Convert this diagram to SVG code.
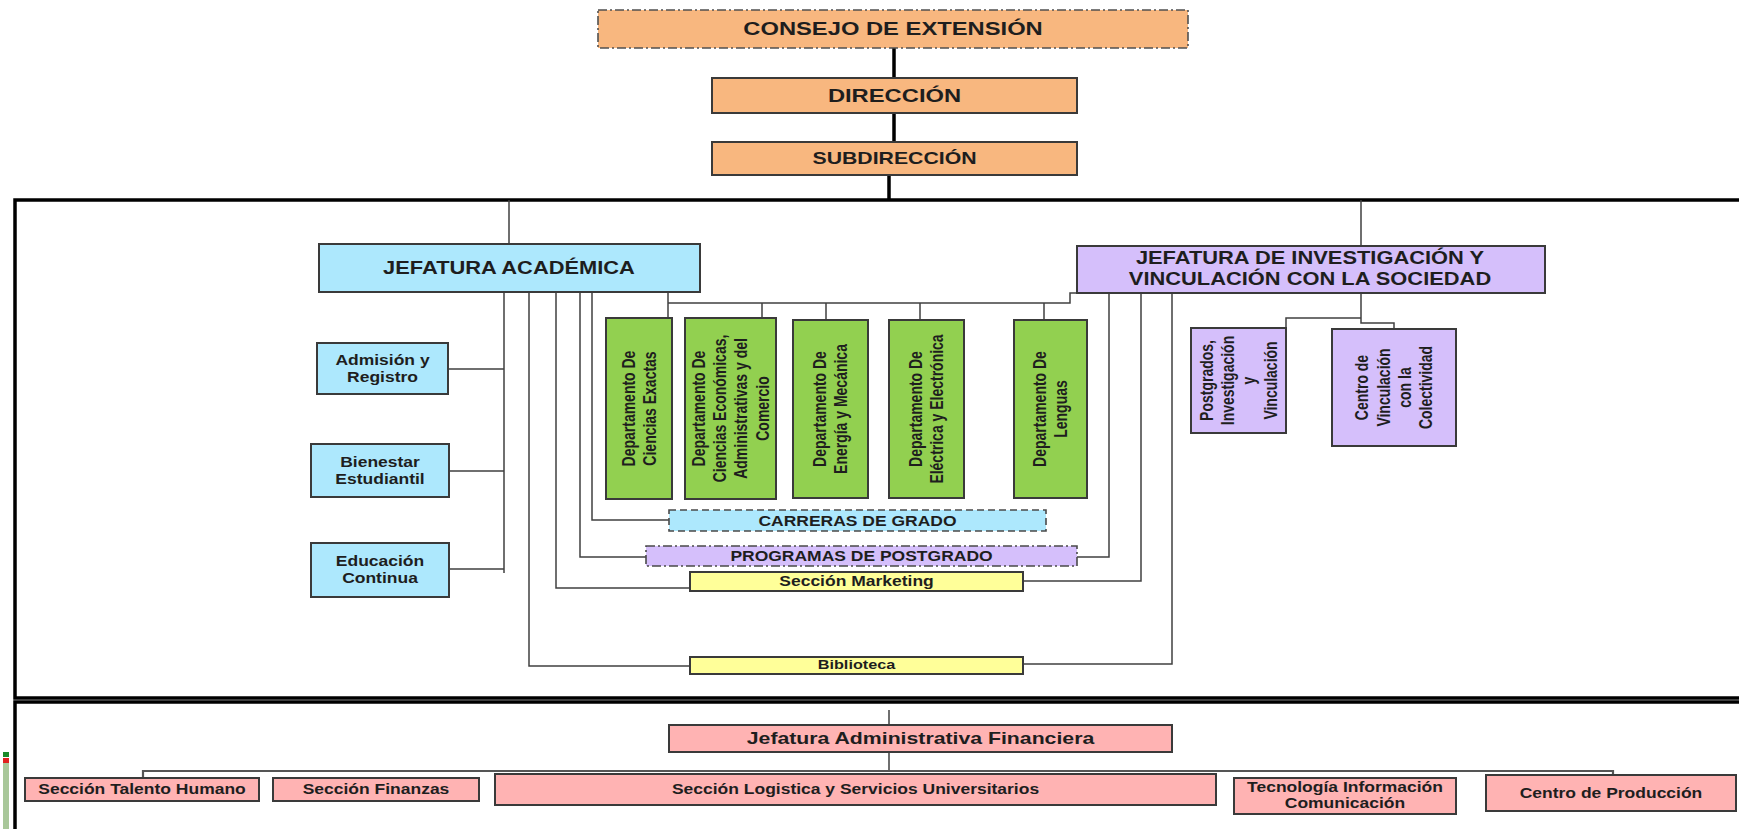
<svg xmlns="http://www.w3.org/2000/svg" width="1739" height="829" viewBox="0 0 1739 829">
<style>
  .t { font-family: "Liberation Sans", Arial, sans-serif; font-weight: bold; fill: #1e1e1e; text-anchor: middle; }
  .box { stroke: #3a3a3a; stroke-width: 2; }
  .orange { fill: #F8B77F; }
  .blue { fill: #ADE8FD; }
  .purple { fill: #D5BFFB; }
  .green { fill: #92D050; }
  .yellow { fill: #FFFF99; }
  .pink { fill: #FFB3B3; }
  .dashdot { stroke-dasharray: 9 3 2 3; }
  .dash { stroke-dasharray: 7 4; }
  .frame { fill: none; stroke: #000; stroke-width: 3.5; }
  .thick { fill: none; stroke: #000; stroke-width: 3.5; }
  .thin { fill: none; stroke: #404040; stroke-width: 1.5; }
</style>
<rect x="0" y="0" width="1739" height="829" fill="#ffffff"/>

<!-- frames -->
<g id="frames">
  <rect class="frame" x="15" y="200" width="1740" height="498"/>
  <rect class="frame" x="15" y="702" width="1740" height="140"/>
  <rect x="3" y="752" width="6" height="5" fill="#1a8a2a"/>
  <rect x="3" y="758" width="6" height="5" fill="#e02020"/>
  <rect x="3" y="763" width="6" height="66" fill="#a9c79a"/>
</g>

<!-- connectors -->
<g id="connectors">
  <path class="thick" d="M894 48 V78 M894 113 V142 M889 175 V200"/>
  <path class="thin" d="M509 200 V244 M1361 200 V246"/>
  <path class="thin" d="M504 292 V573 M448 369 H504 M449 471 H504 M449 569 H504"/>
  <path class="thin" d="M529 292 V666 H690 M556 292 V588 H690 M580 292 V557 H646 M592 292 V520 H669"/>
  <path class="thin" d="M668 292 V318 M668 303 H1070 V293 H1077 M762 303 V318 M826 303 V320 M920 303 V320 M1044 303 V320"/>
  <path class="thin" d="M1109 293 V557 H1077 M1141 293 V581 H1023 M1172 293 V664 H1023"/>
  <path class="thin" d="M1361 293 V323 H1394 V329 M1361 318 H1286 V328"/>
  <path class="thin" d="M889 710 V725 M889 752 V771"/>
  <path class="thin" style="stroke-width:2.2;stroke:#555" d="M143 778 V771 H1613 V775"/>
</g>

<!-- top -->
<g id="consejo">
  <rect class="orange" x="598" y="10" width="590" height="38" stroke="#505050" stroke-width="1.6" stroke-dasharray="9 3 2 3"/>
  <text class="t" font-size="19" transform="translate(893,35) scale(1.25,1)">CONSEJO DE EXTENSIÓN</text>
</g>
<g id="direccion">
  <rect class="box orange" x="712" y="78" width="365" height="35"/>
  <text class="t" font-size="19" transform="translate(894.5,102) scale(1.25,1)">DIRECCIÓN</text>
</g>
<g id="subdireccion">
  <rect class="box orange" x="712" y="142" width="365" height="33"/>
  <text class="t" font-size="17" transform="translate(894.5,164) scale(1.25,1)">SUBDIRECCIÓN</text>
</g>

<!-- academic -->
<g id="jefatura-academica">
  <rect class="box blue" x="319" y="244" width="381" height="48"/>
  <text class="t" font-size="17.5" transform="translate(509,274) scale(1.25,1)">JEFATURA ACADÉMICA</text>
</g>
<g id="admision">
  <rect class="box blue" x="317" y="343" width="131" height="51"/>
  <text class="t" font-size="14" transform="translate(382.5,365) scale(1.25,1)"><tspan x="0">Admisión y</tspan><tspan x="0" dy="17">Registro</tspan></text>
</g>
<g id="bienestar">
  <rect class="box blue" x="311" y="444" width="138" height="53"/>
  <text class="t" font-size="14" transform="translate(380,467) scale(1.25,1)"><tspan x="0">Bienestar</tspan><tspan x="0" dy="17">Estudiantil</tspan></text>
</g>
<g id="educacion">
  <rect class="box blue" x="311" y="543" width="138" height="54"/>
  <text class="t" font-size="14" transform="translate(380,566) scale(1.25,1)"><tspan x="0">Educación</tspan><tspan x="0" dy="17">Continua</tspan></text>
</g>

<!-- departments -->
<g id="dep-exactas">
  <rect class="box green" x="606" y="318" width="66" height="181"/>
  <text class="t" font-size="14" transform="translate(639,408.5) scale(1.25,1) rotate(-90)"><tspan x="0" y="-3.5">Departamento De</tspan><tspan x="0" dy="17">Ciencias Exactas</tspan></text>
</g>
<g id="dep-economicas">
  <rect class="box green" x="685" y="318" width="91" height="181"/>
  <text class="t" font-size="14" transform="translate(730.5,408.5) scale(1.25,1) rotate(-90)"><tspan x="0" y="-20.5">Departamento De</tspan><tspan x="0" dy="17">Ciencias Económicas,</tspan><tspan x="0" dy="17">Administrativas y del</tspan><tspan x="0" dy="17">Comercio</tspan></text>
</g>
<g id="dep-energia">
  <rect class="box green" x="793" y="320" width="75" height="178"/>
  <text class="t" font-size="14" transform="translate(830.5,409) scale(1.25,1) rotate(-90)"><tspan x="0" y="-3.5">Departamento De</tspan><tspan x="0" dy="17">Energía y Mecánica</tspan></text>
</g>
<g id="dep-electrica">
  <rect class="box green" x="889" y="320" width="75" height="178"/>
  <text class="t" font-size="14" transform="translate(926.5,409) scale(1.25,1) rotate(-90)"><tspan x="0" y="-3.5">Departamento De</tspan><tspan x="0" dy="17">Eléctrica y Electrónica</tspan></text>
</g>
<g id="dep-lenguas">
  <rect class="box green" x="1014" y="320" width="73" height="178"/>
  <text class="t" font-size="14" transform="translate(1050.5,409) scale(1.25,1) rotate(-90)"><tspan x="0" y="-3.5">Departamento De</tspan><tspan x="0" dy="17">Lenguas</tspan></text>
</g>

<g id="carreras">
  <rect class="blue" x="669" y="510" width="377" height="21" stroke="#4a4a4a" stroke-width="1.6" stroke-dasharray="7 4"/>
  <text class="t" font-size="14" transform="translate(857.5,526) scale(1.25,1)">CARRERAS DE GRADO</text>
</g>
<g id="programas">
  <rect class="purple" x="646" y="546" width="431" height="20" stroke="#4a4a4a" stroke-width="1.6" stroke-dasharray="9 3 2 3"/>
  <text class="t" font-size="14" transform="translate(861.5,561) scale(1.25,1)">PROGRAMAS DE POSTGRADO</text>
</g>
<g id="marketing">
  <rect class="box yellow" x="690" y="572" width="333" height="19"/>
  <text class="t" font-size="14" transform="translate(856.5,586) scale(1.25,1)">Sección Marketing</text>
</g>
<g id="biblioteca">
  <rect class="box yellow" x="690" y="657" width="333" height="17"/>
  <text class="t" font-size="13" transform="translate(856.5,669) scale(1.25,1)">Biblioteca</text>
</g>

<!-- research -->
<g id="jefatura-investigacion">
  <rect class="box purple" x="1077" y="246" width="468" height="47"/>
  <text class="t" font-size="17.5" transform="translate(1310,264) scale(1.25,1)"><tspan x="0">JEFATURA DE INVESTIGACIÓN Y</tspan><tspan x="0" dy="21">VINCULACIÓN CON LA SOCIEDAD</tspan></text>
</g>
<g id="postgrados">
  <rect class="box purple" x="1191" y="328" width="95" height="105"/>
  <text class="t" font-size="14" transform="translate(1238.5,380.5) scale(1.25,1) rotate(-90)"><tspan x="0" y="-20.5">Postgrados,</tspan><tspan x="0" dy="17">Investigación</tspan><tspan x="0" dy="17">y</tspan><tspan x="0" dy="17">Vinculación</tspan></text>
</g>
<g id="centro-vinculacion">
  <rect class="box purple" x="1332" y="329" width="124" height="117"/>
  <text class="t" font-size="14" transform="translate(1394,387.5) scale(1.25,1) rotate(-90)"><tspan x="0" y="-20.5">Centro de</tspan><tspan x="0" dy="17">Vinculación</tspan><tspan x="0" dy="17">con la</tspan><tspan x="0" dy="17">Colectividad</tspan></text>
</g>

<!-- administrative -->
<g id="jefatura-administrativa">
  <rect class="box pink" x="669" y="725" width="503" height="27"/>
  <text class="t" font-size="17" transform="translate(920.5,744) scale(1.25,1)">Jefatura Administrativa Financiera</text>
</g>
<g id="talento">
  <rect class="box pink" x="25" y="778" width="234" height="23"/>
  <text class="t" font-size="14" transform="translate(142,794) scale(1.25,1)">Sección Talento Humano</text>
</g>
<g id="finanzas">
  <rect class="box pink" x="273" y="778" width="206" height="23"/>
  <text class="t" font-size="14" transform="translate(376,794) scale(1.25,1)">Sección Finanzas</text>
</g>
<g id="logistica">
  <rect class="box pink" x="495" y="774" width="721" height="31"/>
  <text class="t" font-size="14" transform="translate(855.5,794) scale(1.25,1)">Sección Logistica y Servicios Universitarios</text>
</g>
<g id="tic">
  <rect class="box pink" x="1234" y="778" width="222" height="36"/>
  <text class="t" font-size="14" transform="translate(1345,792) scale(1.25,1)"><tspan x="0">Tecnología Información</tspan><tspan x="0" dy="16">Comunicación</tspan></text>
</g>
<g id="centro-produccion">
  <rect class="box pink" x="1486" y="775" width="250" height="36"/>
  <text class="t" font-size="14" transform="translate(1611,798) scale(1.25,1)">Centro de Producción</text>
</g>
</svg>
